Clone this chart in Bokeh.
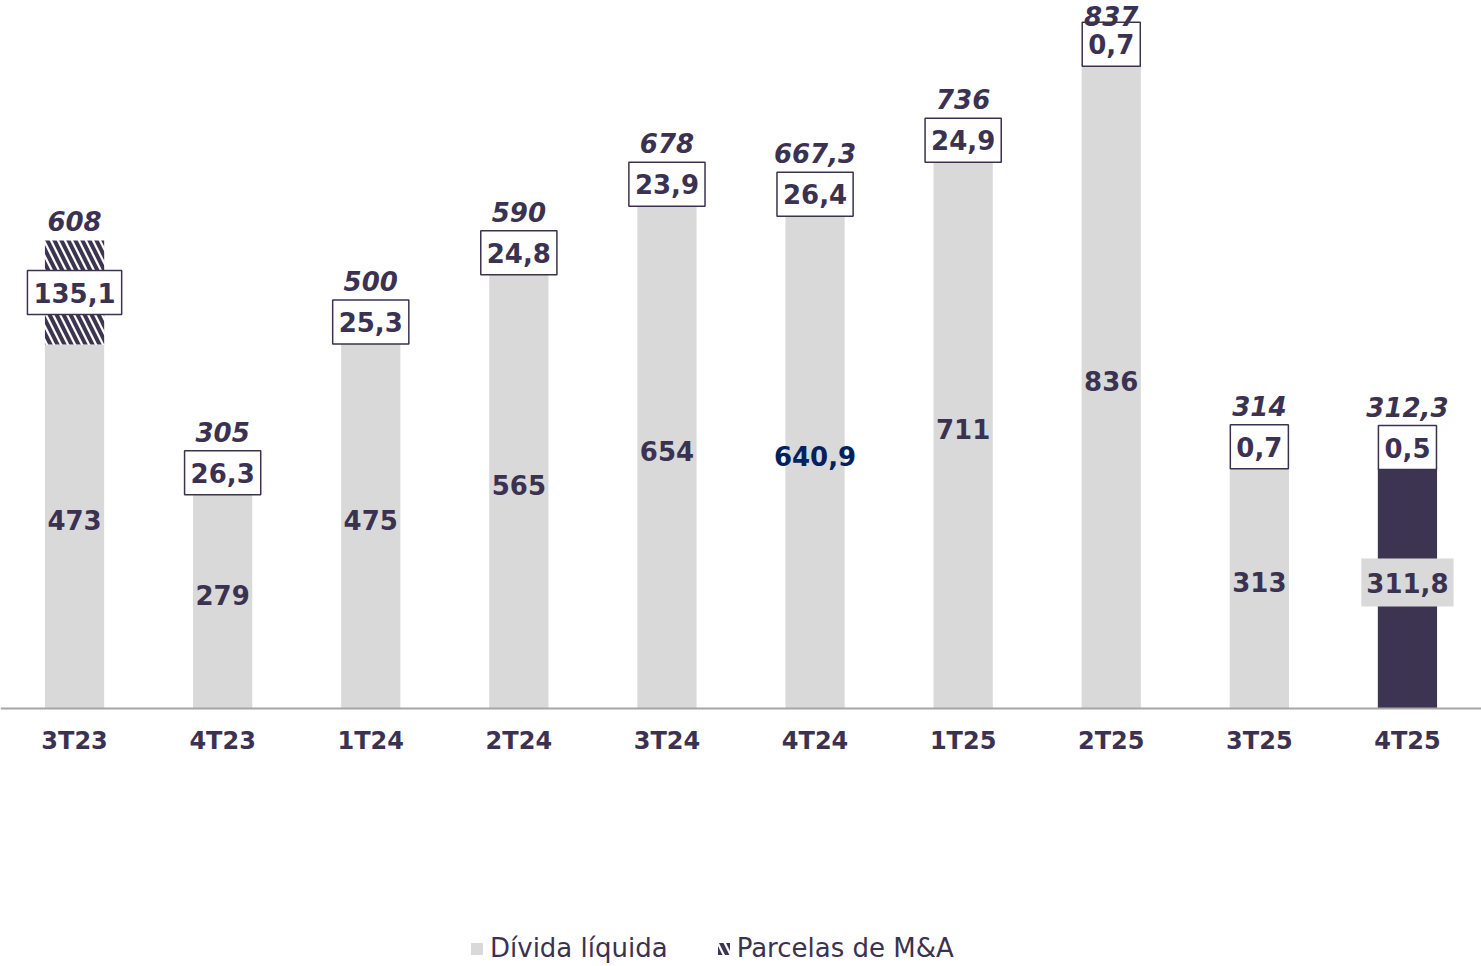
from bokeh.plotting import figure
from bokeh.models import ColumnDataSource, Range1d, FactorRange, Legend, LegendItem
from bokeh.core.properties import value
from bokeh.embed import file_html
from bokeh.resources import INLINE

# ---- data ----
quarters = ["3T23", "4T23", "1T24", "2T24", "3T24", "4T24", "1T25", "2T25", "3T25", "4T25"]
net_debt = [473, 279, 475, 565, 654, 640.9, 711, 836, 313, 311.8]
ma_parcels = [135.1, 26.3, 25.3, 24.8, 23.9, 26.4, 24.9, 0.7, 0.7, 0.5]
totals = [608, 305, 500, 590, 678, 667.3, 736, 837, 314, 312.3]

# ---- styles ----
FONT = "DejaVu Sans"
TXT = "#3b3251"
DARK = "#3d3452"
GRAY = "#d9d9d9"
NAVY = "#002060"

W, H = 1481, 966
BASE_PX = 708                # baseline distance from top of canvas
Y_END = 920
s = BASE_PX / Y_END          # px per unit
Y_START = -(H - BASE_PX) / s
BOX_HALF = 21 / s
GAP = 20 / s

def fmt(v):
    return f"{v:g}".replace(".", ",")

n = len(quarters)
highlight = n - 1
bar_colors = [DARK if i == highlight else GRAY for i in range(n)]
lab_colors = [TXT] * n
lab_colors[5] = NAVY

seg_top = [g + m for g, m in zip(net_debt, ma_parcels)]
box_y = [g + max(m / 2, BOX_HALF) for g, m in zip(net_debt, ma_parcels)]
upper = [max(t, b + BOX_HALF) for t, b in zip(seg_top, box_y)]
tot_y = [min(u + GAP, Y_END - 15 / s) for u in upper]

src = ColumnDataSource(dict(
    q=quarters, debt=net_debt, seg=ma_parcels, seg_top=seg_top,
    mid=[g / 2 + 6 / s for g in net_debt], box_y=box_y, tot_y=tot_y,
    debt_txt=[fmt(v) for v in net_debt], seg_txt=[fmt(v) for v in ma_parcels],
    tot_txt=[fmt(v) for v in totals], bar_color=bar_colors, lab_color=lab_colors,
))
idx_norm = [i for i in range(n) if i != highlight]
src_norm = ColumnDataSource({k: [v[i] for i in idx_norm] for k, v in src.data.items()})
src_hi = ColumnDataSource({k: [v[highlight]] for k, v in src.data.items()})

p = figure(x_range=FactorRange(*quarters, range_padding=0), y_range=Range1d(Y_START, Y_END),
           width=W, height=H, output_backend="svg", toolbar_location=None,
           y_axis_location=None,
           min_border_left=0, min_border_right=0, min_border_top=0, min_border_bottom=0)
p.outline_line_color = None
p.xgrid.grid_line_color = None
p.ygrid.grid_line_color = None
p.background_fill_color = "white"
p.border_fill_color = "white"

r_debt = p.vbar(x="q", top="debt", bottom=0, width=0.4, source=src,
                fill_color="bar_color", line_color=None)
r_seg = p.vbar(x="q", top="seg_top", bottom="debt", width=0.4, source=src,
               fill_color="white", line_color=None,
               hatch_pattern="\\", hatch_color=DARK, hatch_weight=4, hatch_scale=14)

# value labels inside grey bars
p.text(x="q", y="mid", text="debt_txt", source=src_norm, text_align="center",
       text_baseline="middle", text_font=value(FONT), text_font_size="26px",
       text_font_style="bold", text_color="lab_color")
p.text(x="q", y="mid", text="debt_txt", source=src_hi, text_align="center",
       text_baseline="middle", text_font=value(FONT), text_font_size="26px",
       text_font_style="bold", text_color=TXT,
       background_fill_color=GRAY, padding=(5, 14))

# boxed M&A values
p.text(x="q", y="box_y", text="seg_txt", source=src, text_align="center",
       text_baseline="middle", text_font=value(FONT), text_font_size="26px",
       text_font_style="bold", text_color=TXT,
       background_fill_color="white", border_line_color=TXT, border_line_width=1.5,
       padding=(6, 12))

# totals
p.text(x="q", y="tot_y", text="tot_txt", source=src, text_align="center",
       text_baseline="middle", text_font=value(FONT), text_font_size="26px",
       text_font_style="bold italic", text_color=TXT)

ax = p.xaxis[0]
ax.fixed_location = 0
ax.axis_line_color = "#a6a6a6"
ax.axis_line_width = 2
ax.major_tick_line_color = None
ax.minor_tick_line_color = None
ax.major_label_text_font = FONT
ax.major_label_text_font_size = "24px"
ax.major_label_text_font_style = "bold"
ax.major_label_text_color = TXT
ax.major_label_standoff = 12

legend = Legend(items=[LegendItem(label="Dívida líquida", renderers=[r_debt], index=0),
                       LegendItem(label="Parcelas de M&A", renderers=[r_seg], index=0)],
                orientation="horizontal", location=(469, 3),
                label_text_font=FONT, label_text_font_size="26px", label_text_color=TXT,
                glyph_width=15, glyph_height=15, label_standoff=6, spacing=48,
                padding=0, margin=0, border_line_color=None, background_fill_alpha=0)
p.add_layout(legend)

open("out.html", "w").write(file_html(p, INLINE))
